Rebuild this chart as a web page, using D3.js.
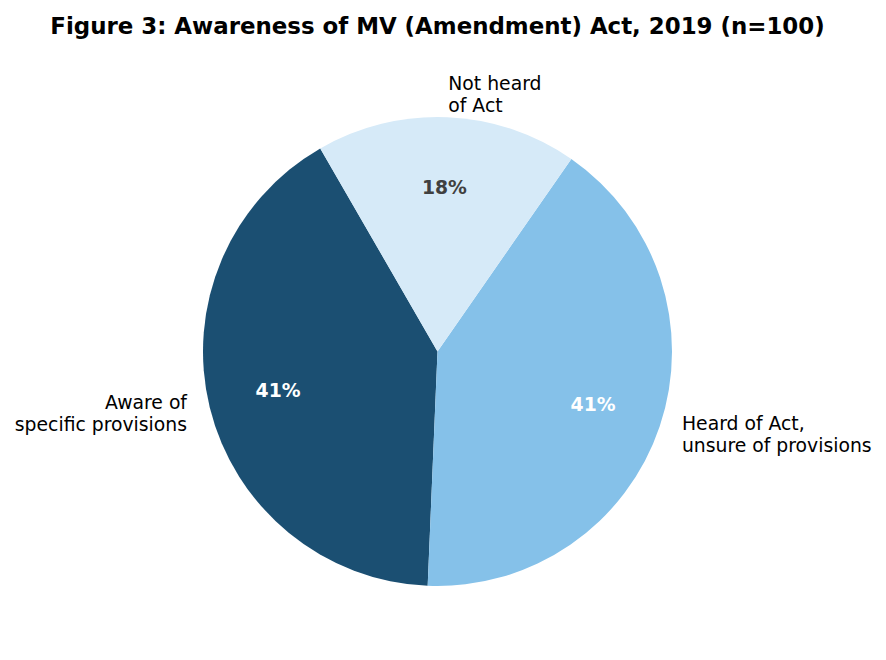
<!DOCTYPE html>
<html>
<head>
<meta charset="utf-8">
<script src="https://cdn.jsdelivr.net/npm/d3@7"></script>
<style>
  body { margin: 0; background: #fff; }
  text { font-family: "DejaVu Sans", sans-serif; }
</style>
</head>
<body>
<div id="chart"></div>
<script>
const labels = [["Aware of", "specific provisions"], ["Heard of Act,", "unsure of provisions"], ["Not heard", "of Act"]];
const values = [41, 41, 18];
const colors = ["#1b4f72", "#85c1e9", "#d6eaf8"];
const pctColors = ["#ffffff", "#ffffff", "#404040"];
const title = "Figure 3: Awareness of MV (Amendment) Act, 2019 (n=100)";

const width = 886;
const height = 660;
const cx = 437.5;
const cy = 351.5;
const radius = 234.5;
const startDeg = 120; // matplotlib style, counter-clockwise from east
const fontSize = 18.8;

const svg = d3.select("#chart").append("svg")
    .attr("width", width)
    .attr("height", height);

svg.append("text")
    .attr("x", cx)
    .attr("y", 34)
    .attr("text-anchor", "middle")
    .attr("font-size", 22.9)
    .attr("font-weight", "bold")
    .text(title);

// d3 angles: 0 at north, clockwise. Convert matplotlib ccw start
const toD3 = deg => (90 - deg) * Math.PI / 180;

const pie = d3.pie()
    .sort(null)
    .value(d => d)
    .startAngle(toD3(startDeg))
    .endAngle(toD3(startDeg) - 2 * Math.PI);

const arcs = pie(values);
const arc = d3.arc().innerRadius(0).outerRadius(radius);

const g = svg.append("g").attr("transform", `translate(${cx},${cy})`);

g.selectAll("path")
    .data(arcs)
    .join("path")
    .attr("d", arc)
    .attr("fill", (d, i) => colors[i]);

const mid = d => (d.startAngle + d.endAngle) / 2;

// percentage labels
g.selectAll("text.pct")
    .data(arcs)
    .join("text")
    .attr("class", "pct")
    .attr("x", d => Math.sin(mid(d)) * radius * 0.7)
    .attr("y", d => -Math.cos(mid(d)) * radius * 0.7)
    .attr("dy", "0.36em")
    .attr("text-anchor", "middle")
    .attr("font-size", fontSize)
    .attr("font-weight", "bold")
    .attr("fill", (d, i) => pctColors[i])
    .text(d => Math.round(d.value) + "%");

// outer labels
const lineH = 22;
g.selectAll("text.lbl")
    .data(arcs)
    .join("text")
    .attr("class", "lbl")
    .attr("text-anchor", d => Math.sin(mid(d)) >= 0 ? "start" : "end")
    .attr("font-size", fontSize)
    .attr("fill", "#000")
    .each(function (d, i) {
        const x = Math.sin(mid(d)) * radius * 1.1;
        const y = -Math.cos(mid(d)) * radius * 1.1;
        const lines = labels[i];
        const y0 = y - (lines.length - 1) * lineH / 2;
        d3.select(this).selectAll("tspan")
            .data(lines)
            .join("tspan")
            .attr("x", x)
            .attr("y", (t, j) => y0 + j * lineH)
            .attr("dy", "0.36em")
            .text(t => t);
    });
</script>
</body>
</html>
